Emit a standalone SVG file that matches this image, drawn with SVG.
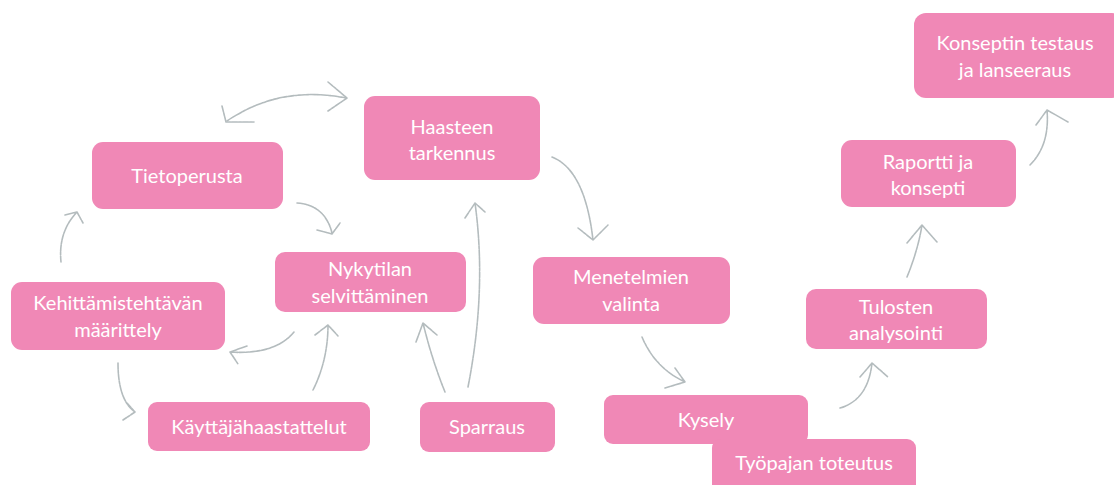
<svg xmlns="http://www.w3.org/2000/svg" width="1114" height="485" viewBox="0 0 1114 485">
<style>
.box{fill:#f088b6;}
.t{font-family:Lato,"Open Sans","Liberation Sans",sans-serif;font-size:20px;fill:#ffffff;text-anchor:middle;}
.c{fill:none;stroke:#b4bcbe;stroke-width:1.6;stroke-linecap:round;stroke-linejoin:round;stroke-dasharray:6 1 3 1;}
</style>
<rect width="1114" height="485" fill="#ffffff"/>
<g id="connectors">
<path class="c" d="M227,121 Q280,85 346,98"/>
<path class="c" d="M222,106 L226,122 L254,122 M328,82 L347,98 L328,111"/>
<path class="c" d="M297,203 Q325,205 332,233 M317,230 L332,234 L340,223"/>
<path class="c" d="M552,157 Q585,170 593,240 M578,228 L593,240 L608,225"/>
<path class="c" d="M468,387 Q487,290 475,203 M465,218 L475,203 L485,212"/>
<path class="c" d="M445,392 Q432,360 423,323 M416,342 L423,323 L437,335"/>
<path class="c" d="M313,390 Q328,360 328,325 M315,335 L328,325 L338,336"/>
<path class="c" d="M294,332 Q275,355 230,352 M247,346 L230,352 L238,364"/>
<path class="c" d="M61,262 Q58,232 77,212 M65,215 L77,212 L83,223"/>
<path class="c" d="M118,363 Q118,400 135,412 M127,403 L135,412 L123,420"/>
<path class="c" d="M642,337 Q655,368 685,382 M675,368 L685,382 L665,388"/>
<path class="c" d="M840,408 Q868,400 872,363 M860,377 L872,363 L888,377"/>
<path class="c" d="M907,277 Q918,250 922,225 M907,243 L922,225 L937,242"/>
<path class="c" d="M1030,165 Q1050,145 1047,110 M1036,125 L1047,110 L1068,122"/>
</g>
<g id="haasteen"><rect class="box" x="364" y="96" width="176" height="84" rx="11"/><text class="t" x="452" y="134">Haasteen</text><text class="t" x="452" y="160">tarkennus</text></g>
<g id="tietoperusta"><rect class="box" x="92" y="142" width="191" height="67" rx="11"/><text class="t" x="187" y="183">Tietoperusta</text></g>
<g id="nykytilan"><rect class="box" x="275" y="252" width="191" height="60" rx="10"/><text class="t" x="370" y="276">Nykytilan</text><text class="t" x="370" y="303">selvittäminen</text></g>
<g id="kehittamis"><rect class="box" x="11" y="282" width="214" height="68" rx="11"/><text class="t" x="118" y="310">Kehittämistehtävän</text><text class="t" x="118" y="337">määrittely</text></g>
<g id="kayttaja"><rect class="box" x="148" y="402" width="222" height="49" rx="9"/><text class="t" x="259" y="434">Käyttäjähaastattelut</text></g>
<g id="sparraus"><rect class="box" x="420" y="402" width="135" height="50" rx="9"/><text class="t" x="487" y="434">Sparraus</text></g>
<g id="menetelmien"><rect class="box" x="533" y="257" width="197" height="67" rx="11"/><text class="t" x="631" y="284">Menetelmien</text><text class="t" x="631" y="311">valinta</text></g>
<g id="kysely"><rect class="box" x="604" y="395" width="204" height="49" rx="9"/><text class="t" x="706" y="427">Kysely</text></g>
<g id="tyopaja"><rect class="box" x="712" y="439" width="204" height="60" rx="9"/><text class="t" x="814" y="470">Työpajan toteutus</text></g>
<g id="tulosten"><rect class="box" x="806" y="289" width="181" height="60" rx="10"/><text class="t" x="896" y="314">Tulosten</text><text class="t" x="896" y="340">analysointi</text></g>
<g id="raportti"><rect class="box" x="841" y="140" width="175" height="67" rx="11"/><text class="t" x="928" y="169">Raportti ja</text><text class="t" x="928" y="195">konsepti</text></g>
<g id="konseptin"><rect class="box" x="914" y="13" width="210" height="85" rx="12"/><text class="t" x="1015" y="50">Konseptin testaus</text><text class="t" x="1015" y="77">ja lanseeraus</text></g>
</svg>
